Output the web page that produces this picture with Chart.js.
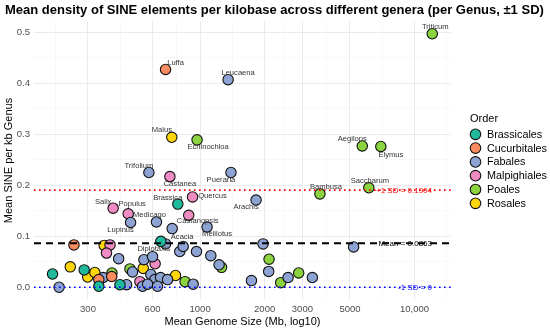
<!DOCTYPE html>
<html><head><meta charset="utf-8">
<script src="https://cdn.jsdelivr.net/npm/chart.js@4.4.1/dist/chart.umd.min.js"></script>
<style>html,body{margin:0;padding:0;background:#fff;}#wrap{width:550px;height:330px;}</style>
</head><body><div id="wrap"><canvas id="c" width="550" height="330"></canvas></div>
<script>
const orders = ['Brassicales','Cucurbitales','Fabales','Malpighiales','Poales','Rosales'];

const brassicalesGenome  = [205, 288, 337, 423, 787, 656];
const brassicalesDensity = [0.026, 0.034, 0.002, 0.005, 0.163, 0.090];
const brassicalesGenus   = ['', '', '', '', 'Brassica', 'Diplotaxis'];

const cucurbitalesGenome  = [690, 258, 337, 387];
const cucurbitalesDensity = [0.427, 0.083, 0.015, 0.021];
const cucurbitalesGenus   = ['Luffa', '', '', ''];

const fabalesGenome  = [1351, 577, 1393, 1824, 1078, 741, 626, 474, 220, 353, 417, 484, 454, 547, 600, 589, 615, 654, 705, 539, 569, 633, 928, 690, 804, 834, 962, 1122, 1226, 1966, 2089, 1736, 2572, 3339, 5200];
const fabalesDensity = [0.407, 0.225, 0.225, 0.171, 0.118, 0.115, 0.128, 0.127, 0.000, 0.019, 0.056, 0.030, 0.005, 0.054, 0.060, 0.025, 0.015, 0.019, 0.015, 0.002, 0.006, 0.002, 0.006, 0.085, 0.070, 0.080, 0.070, 0.062, 0.044, 0.085, 0.031, 0.013, 0.019, 0.019, 0.079];
const fabalesGenus   = ['Leucaena','Trifolium','Pueraria','Arachis','Melilotus','Acacia','Medicago','Lupinus','','','','','','','','','','','','','','','','','','','','','','','','','','',''];

const malpighialesGenome  = [723, 922, 885, 462, 393, 380, 366, 617, 524];
const malpighialesDensity = [0.217, 0.177, 0.141, 0.144, 0.155, 0.083, 0.067, 0.046, 0.011];
const malpighialesGenus   = ['Castanea','Quercus','Castanopsis','Populus','Salix','','','',''];

const poalesGenome  = [12100, 968, 5708, 6966, 6124, 3622, 388, 471, 851, 1259, 2097, 2377, 2883];
const poalesDensity = [0.497, 0.289, 0.277, 0.276, 0.195, 0.183, 0.028, 0.036, 0.011, 0.039, 0.055, 0.009, 0.028];
const poalesGenus   = ['Triticum','Echinochloa','Aegilops','Elymus','Saccharum','Bambusa','','','','','','',''];

const rosalesGenome  = [738, 248, 299, 323, 357, 543, 768];
const rosalesDensity = [0.294, 0.040, 0.020, 0.029, 0.082, 0.037, 0.023];
const rosalesGenus   = ['Malus','','','','','',''];

const meanDensity = 0.0863;
const plusOneSD = 0.1904;
const minusOneSD = 0;

const xTickValues = [300, 600, 1000, 2000, 3000, 5000, 10000];
const xTickLabels = ['300', '600', '1000', '2000', '3000', '5000', '10,000'];
const yTickValues = [0, 0.1, 0.2, 0.3, 0.4, 0.5];
const yTickLabels = ['0.0', '0.1', '0.2', '0.3', '0.4', '0.5'];

const colors = ['#1FB99B', '#F98B5E', '#8CA3D3', '#F08CC4', '#8CD43F', '#FFD60A'];

const labelOffset = {
  Triticum:[3,-7], Luffa:[10,-7], Leucaena:[10,-7], Malus:[-10,-7], Echinochloa:[11,7],
  Trifolium:[-10,-7], Castanea:[10,7], Pueraria:[-10,7], Aegilops:[-10,-7], Elymus:[10,8],
  Saccharum:[1,-7], Bambusa:[6,-7], Arachis:[-10,7], Quercus:[20,-1], Brassica:[-10,-6],
  Castanopsis:[9,6], Melilotus:[10,7], Acacia:[10,8], Medicago:[-7,-7], Populus:[4,-10],
  Salix:[-10,-6], Lupinus:[-10,7], Diplotaxis:[-7,8]
};

const series = [
  [brassicalesGenome, brassicalesDensity, brassicalesGenus],
  [cucurbitalesGenome, cucurbitalesDensity, cucurbitalesGenus],
  [fabalesGenome, fabalesDensity, fabalesGenus],
  [malpighialesGenome, malpighialesDensity, malpighialesGenus],
  [poalesGenome, poalesDensity, poalesGenus],
  [rosalesGenome, rosalesDensity, rosalesGenus]
];

const datasets = series.map((s, k) => ({
  label: orders[k],
  data: s[0].map((g, i) => ({x: g, y: s[1][i], genus: s[2][i]})),
  backgroundColor: colors[k],
  borderColor: '#111',
  borderWidth: 1.1,
  pointRadius: 5.2,
  pointHoverRadius: 5.2
}));

// minor gridlines (geometric midpoints between major breaks, plus one on each side)
const xMinor = [];
{
  const ext = [xTickValues[0]*xTickValues[0]/xTickValues[1], ...xTickValues, xTickValues[xTickValues.length-1]*2];
  for (let i = 0; i < ext.length-1; i++) xMinor.push(Math.sqrt(ext[i]*ext[i+1]));
}
const yMinor = [0.05, 0.15, 0.25, 0.35, 0.45];

const FONT = '"Liberation Sans", Arial, sans-serif';

const overlay = {
  id: 'overlay',
  afterDatasetsDraw(chart) {
    const {ctx, chartArea: a, scales: {x, y}} = chart;
    const lines = [
      {v: plusOneSD, color: '#FF0000', dash: [1.6, 3.4], w: 1.6, text: '+1 SD = ' + plusOneSD.toFixed(4)},
      {v: meanDensity, color: '#000000', dash: [7, 5], w: 1.8, text: 'Mean = ' + meanDensity.toFixed(4)},
      {v: minusOneSD, color: '#0000FF', dash: [1.6, 3.4], w: 1.6, text: '-1 SD = ' + minusOneSD}
    ];
    ctx.save();
    lines.forEach(l => {
      const py = y.getPixelForValue(l.v);
      ctx.beginPath();
      ctx.setLineDash(l.dash);
      ctx.lineCap = 'butt';
      ctx.strokeStyle = l.color;
      ctx.lineWidth = l.w;
      ctx.moveTo(a.left, py);
      ctx.lineTo(a.right, py);
      ctx.stroke();
    });
    ctx.setLineDash([]);
    ctx.font = '8px ' + FONT;
    ctx.textAlign = 'right';
    ctx.textBaseline = 'middle';
    lines.forEach(l => {
      ctx.fillStyle = l.color;
      ctx.fillText(l.text, 432, y.getPixelForValue(l.v) + 0.5);
    });
    ctx.font = '7.6px ' + FONT;
    ctx.fillStyle = '#333333';
    ctx.textAlign = 'center';
    chart.data.datasets.forEach((ds, di) => {
      const meta = chart.getDatasetMeta(di);
      ds.data.forEach((d, i) => {
        if (!d.genus) return;
        const el = meta.data[i];
        const off = labelOffset[d.genus] || [0, -8];
        ctx.fillText(d.genus, el.x + off[0], el.y + off[1]);
      });
    });
    ctx.restore();
  },
  afterDraw(chart) {
    const {ctx} = chart;
    ctx.save();
    ctx.fillStyle = '#000';
    ctx.font = 'bold 13px ' + FONT;
    ctx.textAlign = 'left';
    ctx.textBaseline = 'middle';
    ctx.fillText('Mean density of SINE elements per kilobase across different genera (per Genus, \u00b11 SD)', 5, 10.5);
    ctx.font = '11px ' + FONT;
    ctx.fillText('Order', 470, 119);
    ctx.font = '10.8px ' + FONT;
    chart.data.datasets.forEach((ds, i) => {
      const cy = 134.3 + i * 13.8;
      ctx.beginPath();
      ctx.arc(475.5, cy, 5.3, 0, Math.PI * 2);
      ctx.fillStyle = ds.backgroundColor;
      ctx.fill();
      ctx.lineWidth = 1.1;
      ctx.strokeStyle = '#111';
      ctx.stroke();
      ctx.fillStyle = '#000';
      ctx.fillText(ds.label, 487, cy + 0.5);
    });
    ctx.restore();
  }
};

const isMajorX = v => xTickValues.some(t => Math.abs(t - v) < 1e-6);
const isMajorY = v => yTickValues.some(t => Math.abs(t - v) < 1e-9);

new Chart(document.getElementById('c'), {
  type: 'scatter',
  data: {datasets},
  options: {
    responsive: false,
    animation: false,
    devicePixelRatio: 1,
    layout: {padding: {top: 21, right: 99, bottom: 0, left: 0}},
    plugins: {legend: {display: false}, title: {display: false}, tooltip: {enabled: false}},
    events: [],
    scales: {
      x: {
        type: 'logarithmic',
        min: 168, max: 14800,
        afterBuildTicks: s => { s.ticks = [...xTickValues, ...xMinor].sort((a,b)=>a-b).filter(v => v >= 168 && v <= 14800).map(v => ({value: v})); },
        afterFit: s => { s.height = 30; },
        border: {display: false},
        grid: {
          drawTicks: false,
          color: c => (c.tick && isMajorX(c.tick.value)) ? '#EBEBEB' : '#F3F3F3',
          lineWidth: c => (c.tick && isMajorX(c.tick.value)) ? 1 : 0.6
        },
        ticks: {
          autoSkip: false, maxRotation: 0, padding: 4,
          color: '#4D4D4D', font: {family: FONT, size: 9.5},
          callback: v => { const i = xTickValues.findIndex(t => Math.abs(t - v) < 1e-6); return i >= 0 ? xTickLabels[i] : ''; }
        },
        title: {display: true, text: 'Mean Genome Size (Mb, log10)', color: '#000', font: {family: FONT, size: 11}, padding: {top: 0, bottom: 1}}
      },
      y: {
        type: 'linear',
        min: -0.025, max: 0.522,
        afterBuildTicks: s => { s.ticks = [...yTickValues, ...yMinor].sort((a,b)=>a-b).map(v => ({value: v})); },
        afterFit: s => { s.width = 34; },
        border: {display: false},
        grid: {
          drawTicks: false,
          color: c => (c.tick && isMajorY(c.tick.value)) ? '#EBEBEB' : '#F3F3F3',
          lineWidth: c => (c.tick && isMajorY(c.tick.value)) ? 1 : 0.6
        },
        ticks: {
          autoSkip: false, padding: 4,
          color: '#4D4D4D', font: {family: FONT, size: 9.5},
          callback: v => { const i = yTickValues.findIndex(t => Math.abs(t - v) < 1e-9); return i >= 0 ? yTickLabels[i] : ''; }
        },
        title: {display: true, text: 'Mean SINE per kb Genus', color: '#000', font: {family: FONT, size: 11}, padding: {top: 2, bottom: 0}}
      }
    }
  },
  plugins: [overlay]
});
</script></body></html>
